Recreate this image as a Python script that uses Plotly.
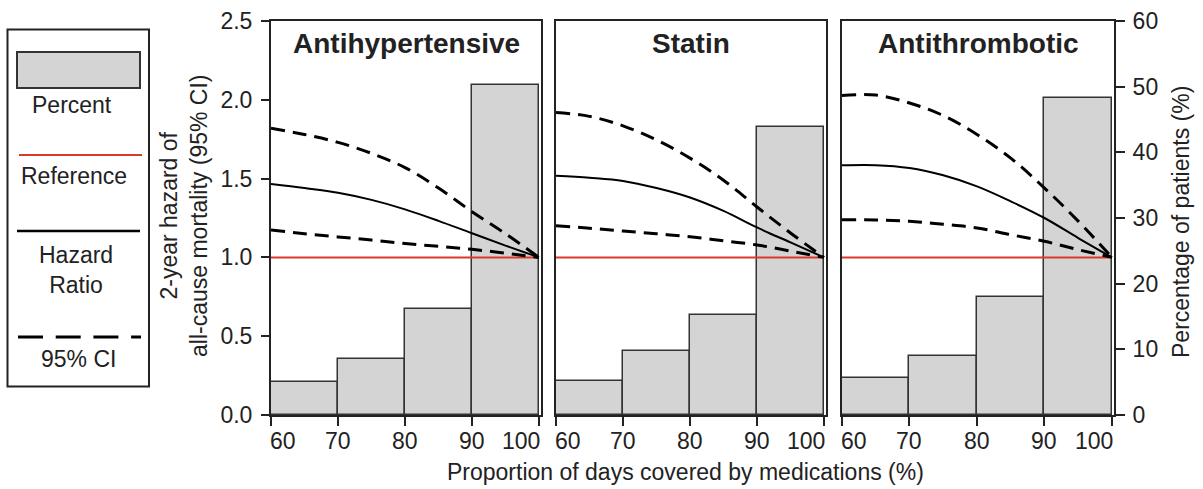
import plotly.graph_objects as go

# ---------------- data ----------------
panel_titles = ["Antihypertensive", "Statin", "Antithrombotic"]

bin_centers = [65, 75, 85, 95]          # 60-70, 70-80, 80-90, 90-100
pct_antihyp = [5.1, 8.5, 16.1, 50.3]
pct_statin = [5.2, 9.7, 15.3, 43.8]
pct_antithr = [5.7, 9.0, 17.9, 48.2]

adherence = [60, 65, 70, 75, 80, 85, 90, 95, 100]
hr_antihyp = [1.466, 1.44, 1.41, 1.365, 1.305, 1.232, 1.153, 1.075, 1.0]
upper_antihyp = [1.819, 1.78, 1.73, 1.66, 1.57, 1.44, 1.29, 1.15, 1.0]
lower_antihyp = [1.174, 1.15, 1.13, 1.11, 1.088, 1.07, 1.051, 1.027, 1.0]

hr_statin = [1.518, 1.505, 1.485, 1.44, 1.38, 1.295, 1.19, 1.095, 1.0]
upper_statin = [1.92, 1.895, 1.835, 1.745, 1.63, 1.49, 1.32, 1.155, 1.0]
lower_statin = [1.201, 1.185, 1.167, 1.15, 1.131, 1.105, 1.079, 1.04, 1.0]

hr_antithr = [1.584, 1.585, 1.567, 1.521, 1.451, 1.356, 1.25, 1.123, 1.0]
upper_antithr = [2.028, 2.03, 1.98, 1.9, 1.78, 1.63, 1.44, 1.23, 1.0]
lower_antithr = [1.239, 1.237, 1.229, 1.21, 1.187, 1.144, 1.102, 1.049, 1.0]

reference_x = [60, 100]
reference_y = [1.0, 1.0]

x_tickvals = [60, 70, 80, 90, 100]
x_ticktext = ["60", "70", "80", "90", "100"]
hazard_ticks = [0.0, 0.5, 1.0, 1.5, 2.0, 2.5]
hazard_ticktext = ["0.0", "0.5", "1.0", "1.5", "2.0", "2.5"]
pct_ticks = [0, 10, 20, 30, 40, 50, 60]

legend_labels = ["Percent", "Reference", "Hazard<br>Ratio", "95% CI"]

# ---------------- styling ----------------
W, H = 1203, 489
FONT = "Arial, Liberation Sans, sans-serif"
TXT = "#222222"
FRAME = "#222222"
BAR_FILL = "#d4d4d4"
BAR_LINE = "#333333"
RED = "#d93a2b"

def px_x(p):
    return p / W

def px_y(p):
    return 1 - p / H

domains = [(271, 541), (556, 826), (842, 1114)]
ydom = [px_y(415), px_y(21)]

pct_sets = [pct_antihyp, pct_statin, pct_antithr]
hr_sets = [hr_antihyp, hr_statin, hr_antithr]
up_sets = [upper_antihyp, upper_statin, upper_antithr]
lo_sets = [lower_antihyp, lower_statin, lower_antithr]

fig = go.Figure()

for i in range(3):
    xa = "x" if i == 0 else f"x{i+1}"
    yb = "y" if i == 0 else f"y{i+1}"
    yh = f"y{i+4}"
    fig.add_trace(go.Bar(
        x=bin_centers, y=pct_sets[i], width=10,
        marker=dict(color=BAR_FILL, line=dict(color=BAR_LINE, width=1.5)),
        xaxis=xa, yaxis=yb, showlegend=False, hoverinfo="skip"))
    fig.add_trace(go.Scatter(
        x=reference_x, y=reference_y, mode="lines",
        line=dict(color=RED, width=2), xaxis=xa, yaxis=yh, showlegend=False))
    for ys in (up_sets[i], lo_sets[i]):
        fig.add_trace(go.Scatter(
            x=adherence, y=ys, mode="lines",
            line=dict(color="black", width=3, dash="14px,8px", shape="spline", smoothing=1.0),
            xaxis=xa, yaxis=yh, showlegend=False))
    fig.add_trace(go.Scatter(
        x=adherence, y=hr_sets[i], mode="lines",
        line=dict(color="black", width=2, shape="spline", smoothing=1.0),
        xaxis=xa, yaxis=yh, showlegend=False))

layout = dict(
    width=W, height=H,
    margin=dict(l=0, r=0, t=0, b=0),
    paper_bgcolor="white", plot_bgcolor="rgba(0,0,0,0)",
    font=dict(family=FONT, size=23, color=TXT),
    showlegend=False,
    bargap=0,
)

for i in range(3):
    sx = "" if i == 0 else str(i + 1)
    layout[f"xaxis{sx}"] = dict(
        domain=[px_x(domains[i][0]), px_x(domains[i][1])],
        anchor="y" if i == 0 else f"y{i+1}",
        range=[60, 100.3], tickvals=x_tickvals, showticklabels=False,
        ticks="outside", ticklen=9, tickwidth=1.5, tickcolor=FRAME,
        showline=True, mirror=True, linecolor=FRAME, linewidth=2,
        showgrid=False, zeroline=False, automargin=False, fixedrange=True,
    )
    base = dict(
        domain=ydom, anchor="x" if i == 0 else f"x{i+1}",
        range=[0, 60], showline=True, mirror=True, linecolor=FRAME, linewidth=2,
        showgrid=False, zeroline=False, automargin=False, fixedrange=True,
    )
    if i == 2:
        base.update(side="right", tickvals=pct_ticks, ticks="outside", ticklen=9,
                    tickwidth=1.5, tickcolor=FRAME, showticklabels=True,
                    ticklabelstandoff=3,
                    tickfont=dict(size=23, color=TXT, family=FONT))
    else:
        base.update(ticks="", showticklabels=False)
    layout[f"yaxis{sx}"] = base
    haz = dict(
        overlaying="y" if i == 0 else f"y{i+1}",
        anchor="x" if i == 0 else f"x{i+1}",
        range=[0, 2.5], showgrid=False, zeroline=False, showline=False,
        automargin=False, fixedrange=True,
    )
    if i == 0:
        haz.update(side="left", tickvals=hazard_ticks, ticktext=hazard_ticktext,
                   ticks="outside", ticklen=9, tickwidth=1.5, tickcolor=FRAME,
                   showticklabels=True, ticklabelstandoff=4,
                   tickfont=dict(size=23, color=TXT, family=FONT))
    else:
        haz.update(ticks="", showticklabels=False)
    layout[f"yaxis{i+4}"] = haz

fig.update_layout(**layout)

annotations = []
for i in range(3):
    xa = "x" if i == 0 else f"x{i+1}"
    annotations.append(dict(
        text=f"<b>{panel_titles[i]}</b>", xref=f"{xa} domain", yref="paper",
        x=0.5, y=px_y(43), xanchor="center", yanchor="middle", showarrow=False,
        font=dict(size=28, color=TXT, family=FONT)))
    # bottom tick labels: first one starts at its tick, last one ends at its tick
    for j, (tv, tt) in enumerate(zip(x_tickvals, x_ticktext)):
        anchor = "left" if j == 0 else ("right" if j == len(x_tickvals) - 1 else "center")
        annotations.append(dict(
            text=tt, xref=xa, yref="paper", x=tv, y=px_y(441),
            xanchor=anchor, yanchor="middle", showarrow=False, borderpad=0,
            xshift=-2 if j == 0 else (2 if j == len(x_tickvals) - 1 else 0),
            font=dict(size=23, color=TXT, family=FONT)))

# axis titles
annotations.append(dict(
    text="Proportion of days covered by medications (%)", xref="paper", yref="paper",
    x=px_x(685), y=px_y(472), xanchor="center", yanchor="middle", showarrow=False,
    font=dict(size=23, color=TXT, family=FONT)))
annotations.append(dict(
    text="2-year hazard of<br>all-cause mortality (95% CI)", xref="paper", yref="paper",
    x=px_x(184), y=px_y(216), xanchor="center", yanchor="middle", textangle=-90,
    showarrow=False, font=dict(size=23, color=TXT, family=FONT)))
annotations.append(dict(
    text="Percentage of patients (%)", xref="paper", yref="paper",
    x=px_x(1181), y=px_y(222), xanchor="center", yanchor="middle", textangle=-90,
    showarrow=False, font=dict(size=23, color=TXT, family=FONT)))

# legend texts
legend_pos = [(72, 105), (74, 176), (76, 270), (78, 359)]
for lab, (lx, ly) in zip(legend_labels, legend_pos):
    annotations.append(dict(
        text=lab, xref="paper", yref="paper", x=px_x(lx), y=px_y(ly),
        xanchor="center", yanchor="middle", showarrow=False,
        font=dict(size=23, color=TXT, family=FONT)))

shapes = [
    # legend box
    dict(type="rect", xref="paper", yref="paper",
         x0=px_x(7.5), x1=px_x(149), y0=px_y(29.5), y1=px_y(386.5),
         line=dict(color=FRAME, width=2), fillcolor="rgba(0,0,0,0)"),
    dict(type="rect", xref="paper", yref="paper",
         x0=px_x(17), x1=px_x(140), y0=px_y(52), y1=px_y(88),
         line=dict(color=BAR_LINE, width=2), fillcolor=BAR_FILL),
    dict(type="line", xref="paper", yref="paper",
         x0=px_x(19), x1=px_x(142), y0=px_y(155), y1=px_y(155),
         line=dict(color=RED, width=2)),
    dict(type="line", xref="paper", yref="paper",
         x0=px_x(17), x1=px_x(140), y0=px_y(231), y1=px_y(231),
         line=dict(color="black", width=2.5)),
    dict(type="line", xref="paper", yref="paper",
         x0=px_x(18), x1=px_x(141), y0=px_y(337), y1=px_y(337),
         line=dict(color="black", width=3, dash="25px,12.7px")),
]

fig.update_layout(annotations=annotations, shapes=shapes)

fig.write_html("out.html", config={"displayModeBar": False},
               post_script="document.body.style.margin='0px';")
